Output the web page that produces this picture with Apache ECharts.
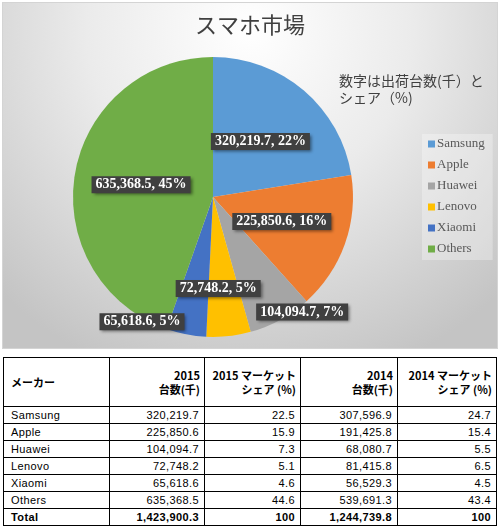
<!DOCTYPE html>
<html lang="ja">
<head>
<meta charset="UTF-8">
<title>スマホ市場</title>
<script src="https://cdn.jsdelivr.net/npm/echarts@6/dist/echarts.min.js"></script>
<style>
  body { margin: 0; background: #fff; }
  #main { position: absolute; left: 2px; top: 2px; width: 496px; height: 347px; box-sizing: border-box; border: 1px solid #d4d4d4; }
  #tbl { position: absolute; left: 3px; top: 357px; width: 494px; border-collapse: collapse; table-layout: fixed;
         font-family: "Liberation Sans", "Noto Sans CJK JP", sans-serif; font-size: 11px; color: #000; }
  #tbl td, #tbl th { border: 1px solid #000; padding: 0 5px 0 7px; height: 16px; line-height: 14px; text-align: right; letter-spacing: 0.4px; }
  #tbl th { height: 48px; font-weight: bold; font-size: 11px; font-family: "Noto Sans CJK JP", sans-serif; vertical-align: middle;
            white-space: nowrap; letter-spacing: 0; padding: 0 4px 0 7px; }
  #tbl .l { text-align: left; }
  #tbl tr.total td { font-weight: bold; }
</style>
</head>
<body>
<div id="main"></div>
<table id="tbl"></table>
<script type="text/javascript">
// データ
var makers = ['Samsung', 'Apple', 'Huawei', 'Lenovo', 'Xiaomi', 'Others'];
var units2015 = [320219.7, 225850.6, 104094.7, 72748.2, 65618.6, 635368.5];
var share2015 = [22.5, 15.9, 7.3, 5.1, 4.6, 44.6];
var units2014 = [307596.9, 191425.8, 68080.7, 81415.8, 56529.3, 539691.3];
var share2014 = [24.7, 15.4, 5.5, 6.5, 4.5, 43.4];
var totalRow = ['Total', 1423900.3, 100, 1244739.8, 100];
var headers = ['メーカー', '2015<br>台数(千)', '2015 マーケット<br>シェア (%)', '2014<br>台数(千)', '2014 マーケット<br>シェア (%)'];

var colors = ['#5B9BD5', '#ED7D31', '#A5A5A5', '#FFC000', '#4472C4', '#70AD47'];
// ラベルのずらし (bestFit 相当)
var labelShift = { Huawei: [54, 51], Lenovo: [-3, 19], Xiaomi: [-57, 53] };

function fmt(v) {
    return v.toLocaleString('en-US', { minimumFractionDigits: 1, maximumFractionDigits: 1 });
}

var myChart = echarts.init(document.getElementById('main'));

var option = {
    backgroundColor: {
        type: 'radial', x: 0.5, y: 0.08, r: 1.05,
        colorStops: [
            { offset: 0, color: '#ffffff' },
            { offset: 0.45, color: '#ebebeb' },
            { offset: 1, color: '#c4c4c4' }
        ]
    },
    color: colors,
    title: [{
        text: 'スマホ市場',
        left: 'center',
        top: 11,
        padding: 0,
        textStyle: { fontFamily: 'Noto Sans CJK JP', fontSize: 22, fontWeight: 'normal', color: '#404040' }
    }, {
        text: '数字は出荷台数(千）と\nシェア（%)',
        left: 336,
        top: 69,
        padding: 0,
        textStyle: { fontFamily: 'Noto Sans CJK JP', fontSize: 14, lineHeight: 17, fontWeight: 'normal', color: '#404040' }
    }],
    legend: {
        orient: 'vertical',
        left: 419,
        top: 131,
        width: 71,
        padding: [3, 8, 4, 6],
        backgroundColor: 'rgba(255,255,255,0.3)',
        itemWidth: 7,
        itemHeight: 7,
        itemGap: 7,
        icon: 'rect',
        data: makers,
        textStyle: { fontFamily: 'Liberation Serif', fontSize: 13, lineHeight: 14, color: '#595959', padding: [0, 0, 0, -3] }
    },
    series: [{
        type: 'pie',
        center: [210, 194],
        radius: 140,
        startAngle: 90,
        clockwise: true,
        silent: true,
        itemStyle: { borderWidth: 0 },
        data: makers.map(function (m, i) { return { name: m, value: units2015[i] }; }),
        label: {
            show: true,
            position: 'inside',
            formatter: function (p) { return fmt(p.value) + ', ' + Math.round(p.percent) + '%'; },
            fontFamily: 'Liberation Serif',
            fontWeight: 'bold',
            fontSize: 14,
            lineHeight: 15,
            color: '#ffffff',
            backgroundColor: '#404040',
            padding: [1, 4],
            shadowColor: 'rgba(0,0,0,0.45)',
            shadowBlur: 3,
            shadowOffsetX: 2,
            shadowOffsetY: 2
        },
        labelLayout: function (params) {
            var s = labelShift[makers[params.dataIndex]];
            return s ? { dx: s[0], dy: s[1] } : {};
        },
        labelLine: { show: false }
    }]
};

myChart.setOption(option);

// 表
var tbl = document.getElementById('tbl');
var widths = [106, 95, 96, 97, 99];
var html = '<colgroup>' + widths.map(function (w) { return '<col style="width:' + w + 'px">'; }).join('') + '</colgroup>';
html += '<tr>' + headers.map(function (h, i) { return '<th' + (i === 0 ? ' class="l"' : '') + '>' + h + '</th>'; }).join('') + '</tr>';
for (var i = 0; i < makers.length; i++) {
    html += '<tr><td class="l">' + makers[i] + '</td><td>' + fmt(units2015[i]) + '</td><td>' + share2015[i].toFixed(1) +
        '</td><td>' + fmt(units2014[i]) + '</td><td>' + share2014[i].toFixed(1) + '</td></tr>';
}
html += '<tr class="total"><td class="l">' + totalRow[0] + '</td><td>' + fmt(totalRow[1]) + '</td><td>' + totalRow[2] +
    '</td><td>' + fmt(totalRow[3]) + '</td><td>' + totalRow[4] + '</td></tr>';
tbl.innerHTML = html;
</script>
</body>
</html>
